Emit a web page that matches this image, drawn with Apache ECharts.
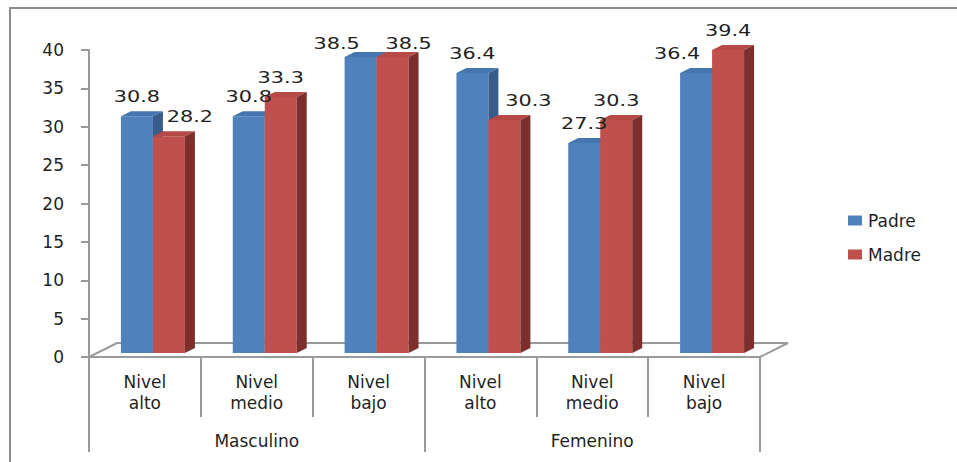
<!DOCTYPE html>
<html>
<head>
<meta charset="utf-8">
<script src="https://cdn.jsdelivr.net/npm/echarts@6/dist/echarts.min.js"></script>
<style>
  html, body { margin: 0; padding: 0; background: #fff; }
  #chart { width: 957px; height: 462px; }
</style>
</head>
<body>
<div id="chart"></div>
<script>
// ---- data ----
const levels = ['Nivel\nalto', 'Nivel\nmedio', 'Nivel\nbajo', 'Nivel\nalto', 'Nivel\nmedio', 'Nivel\nbajo'];
const groups = ['Masculino', 'Femenino'];
const padre = [30.8, 30.8, 38.5, 36.4, 27.3, 36.4];
const madre = [28.2, 33.3, 38.5, 30.3, 30.3, 39.4];
const yTicks = { min: 0, max: 40, step: 5 };

// ---- label layout: nudges keep neighbouring value labels apart ----
const padreLabelDx = [0, 0, -24, 0, 0, -19];
const madreLabelDx = [21, 0, 16, 24, 0, 0];
const labelDy = [0, 0, 6, 0, 0, 0];

// ---- style ----
const FONT = 'DejaVu Sans';
const TEXT = '#1f1f1f';
const LINE = '#9a9a9a';
const BAR_RATIO = 0.286;   // bar width relative to category band
const DEPTH_X = 10, DEPTH_Y = 5;   // bar depth projection
const FLOOR_X = 28, FLOOR_Y = 14;  // floor depth projection
const LABEL_WIDEN = 1.3;           // wide lettering for value labels

const padreColors = { front: '#4F81BD', top: '#4676B0', side: '#385D8A' };
const madreColors = { front: '#C0504D', top: '#B64A47', side: '#7C2F2D' };

// side 0 = left bar of the pair, side 1 = right bar (drawn in front of the left one's side face)
function barRenderer(side, colors, labelDx) {
  return function (params, api) {
    const i = api.value(0);
    const v = api.value(1);
    const top = api.coord([i, v]);
    const base = api.coord([i, 0]);
    const band = api.size([1, 0])[0];
    const w = band * BAR_RATIO;
    const x0 = side === 0 ? top[0] - w : top[0];
    const x1 = x0 + w;
    const yT = top[1], yB = base[1];
    const lx = (x0 + x1) / 2 + labelDx[params.dataIndex];
    const ly = yT - DEPTH_Y - 15 + labelDy[params.dataIndex];
    const zFace = side;
    return {
      type: 'group',
      children: [
        { type: 'rect', z2: zFace, shape: { x: x0, y: yT, width: w, height: yB - yT },
          style: { fill: colors.front } },
        { type: 'polygon', z2: zFace,
          shape: { points: [[x0, yT], [x0 + DEPTH_X, yT - DEPTH_Y], [x1 + DEPTH_X, yT - DEPTH_Y], [x1, yT]] },
          style: { fill: colors.top } },
        { type: 'polygon', z2: zFace,
          shape: { points: [[x1, yT], [x1 + DEPTH_X, yT - DEPTH_Y], [x1 + DEPTH_X, yB - DEPTH_Y], [x1, yB]] },
          style: { fill: colors.side } },
        { type: 'text', z2: 10,
          x: lx, y: ly, scaleX: LABEL_WIDEN,
          style: {
            text: v.toFixed(1),
            x: 0, y: 0,
            align: 'center', verticalAlign: 'middle',
            fontFamily: FONT, fontSize: 16, fill: TEXT
          } }
      ]
    };
  };
}

const chart = echarts.init(document.getElementById('chart'), null, { renderer: 'svg' });

chart.setOption({
  animation: false,
  backgroundColor: '#fff',
  grid: [
    { left: 89, right: 197, top: 50, bottom: 105 },
    { left: 97, right: 189, top: 45.4, bottom: 109 }
  ],
  legend: {
    orient: 'vertical', left: 843, top: 207,
    itemWidth: 14, itemHeight: 10, itemGap: 17,
    icon: 'rect',
    textStyle: { fontFamily: FONT, fontSize: 17, color: TEXT, lineHeight: 16, padding: [0, 0, 0, 1] },
    data: ['Padre', 'Madre']
  },
  xAxis: [
    {
      type: 'category', gridIndex: 0, data: levels, position: 'bottom',
      axisLine: { lineStyle: { color: LINE, width: 2 } },
      axisTick: { show: true, length: 60, lineStyle: { color: LINE, width: 2 } },
      axisLabel: { margin: 14, fontFamily: FONT, fontSize: 17, color: TEXT, lineHeight: 21, interval: 0 },
      splitLine: { show: false }
    },
    {
      type: 'category', gridIndex: 0, data: groups, position: 'bottom',
      axisLine: { show: false },
      axisTick: { show: true, length: 95, lineStyle: { color: LINE, width: 2 } },
      axisLabel: { margin: 73, fontFamily: FONT, fontSize: 17, color: TEXT, lineHeight: 21 },
      splitLine: { show: false }
    },
    {
      type: 'category', gridIndex: 1, data: levels, show: false
    }
  ],
  yAxis: [
    {
      type: 'value', gridIndex: 0, min: yTicks.min, max: yTicks.max, interval: yTicks.step,
      axisLine: { show: true, lineStyle: { color: LINE, width: 2 } },
      axisTick: { show: true, length: 8, lineStyle: { color: LINE, width: 2 } },
      axisLabel: { margin: 25, fontFamily: FONT, fontSize: 17, color: TEXT },
      splitLine: { show: false }
    },
    {
      type: 'value', gridIndex: 1, min: yTicks.min, max: yTicks.max, show: false,
      splitLine: { show: false }
    }
  ],
  series: [
    {
      name: 'Padre', type: 'custom', xAxisIndex: 2, yAxisIndex: 1,
      itemStyle: { color: padreColors.front },
      renderItem: barRenderer(0, padreColors, padreLabelDx),
      data: padre.map((v, i) => [i, v]),
      z: 3
    },
    {
      name: 'Madre', type: 'custom', xAxisIndex: 2, yAxisIndex: 1,
      itemStyle: { color: madreColors.front },
      renderItem: barRenderer(1, madreColors, madreLabelDx),
      data: madre.map((v, i) => [i, v]),
      z: 3
    }
  ]
});

// Floor outline and outer frame, placed from the axis scales
const p0 = chart.convertToPixel({ xAxisIndex: 0, yAxisIndex: 0 }, [0, 0]);
const p1 = chart.convertToPixel({ xAxisIndex: 0, yAxisIndex: 0 }, [1, 0]);
const pN = chart.convertToPixel({ xAxisIndex: 0, yAxisIndex: 0 }, [levels.length - 1, 0]);
const half = (p1[0] - p0[0]) / 2;
const fl = p0[0] - half, fr = pN[0] + half, fy = p0[1];

chart.setOption({
  graphic: [
    { type: 'polyline', z: 1, silent: true,
      shape: { points: [[fl, fy], [fl + FLOOR_X, fy - FLOOR_Y], [fr + FLOOR_X, fy - FLOOR_Y], [fr, fy]] },
      style: { stroke: LINE, lineWidth: 2, fill: null } },
    { type: 'rect', z: 0, silent: true,
      shape: { x: 10, y: 8, width: 1100, height: 600 },
      style: { stroke: '#8a8a8a', lineWidth: 2, fill: null } }
  ]
});
</script>
</body>
</html>
